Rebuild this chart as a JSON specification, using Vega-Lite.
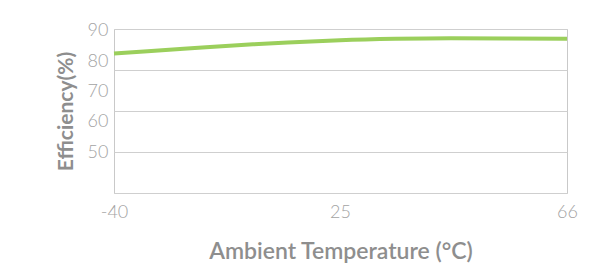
{
  "$schema": "https://vega.github.io/schema/vega-lite/v6.json",
  "width": 453,
  "height": 164,
  "autosize": {"type": "none"},
  "padding": {"left": 114, "top": 29, "right": 35, "bottom": 86},
  "background": "#ffffff",
  "config": {
    "view": {"stroke": "#c9c9c9", "strokeWidth": 1},
    "font": "Lato",
    "axis": {
      "labelFont": "Lato",
      "labelFontSize": 18,
      "labelFontWeight": 300,
      "labelColor": "#a3a3a3",
      "titleFont": "Lato",
      "titleFontWeight": "bold",
      "titleColor": "#8e8e8e",
      "ticks": false,
      "domain": false
    }
  },
  "data": {
    "values": [
      {"temp": -40, "eff": 82.6},
      {"temp": -20, "eff": 84.1},
      {"temp": 0, "eff": 85.6},
      {"temp": 10, "eff": 86.2},
      {"temp": 25, "eff": 86.95},
      {"temp": 35, "eff": 87.4},
      {"temp": 45, "eff": 87.6},
      {"temp": 55, "eff": 87.5},
      {"temp": 66, "eff": 87.4}
    ]
  },
  "resolve": {"scale": {"y": "independent"}, "axis": {"y": "independent"}},
  "layer": [
    {
      "mark": {"type": "line", "strokeOpacity": 0},
      "encoding": {
        "x": {"field": "temp", "type": "quantitative",
          "scale": {"domain": [-40, 25, 66], "range": [0, 226, 453]},
          "axis": {"values": [-40, 25, 66], "labelExpr": "'' + datum.value", "labelFlush": false, "grid": false, "labelPadding": 10, "title": "Ambient Temperature (°C)", "titleFontSize": 23, "titlePadding": 19, "titleFontWeight": 600}},
        "y": {"field": "eff", "type": "quantitative",
          "scale": {"domain": [36.45, 90.66], "nice": false, "zero": false},
          "axis": {"orient": "right", "values": [36.45, 50, 63.55, 77.1, 90.66], "grid": true, "gridColor": "#cfcfcf", "gridOpacity": 1, "labels": false, "title": null}}
      }
    },
    {
      "mark": {"type": "line", "color": "#9bcf5c", "strokeWidth": 4, "interpolate": "monotone"},
      "encoding": {
        "x": {"field": "temp", "type": "quantitative",
          "scale": {"domain": [-40, 25, 66], "range": [0, 226, 453]}},
        "y": {"field": "eff", "type": "quantitative",
          "scale": {"domain": [36.45, 90.66], "nice": false, "zero": false},
          "axis": {"orient": "left", "values": [50, 60, 70, 80, 90], "grid": false, "labelPadding": 6, "title": "Efficiency(%)", "titleFontSize": 21, "titlePadding": 11}}
      }
    }
  ]
}
